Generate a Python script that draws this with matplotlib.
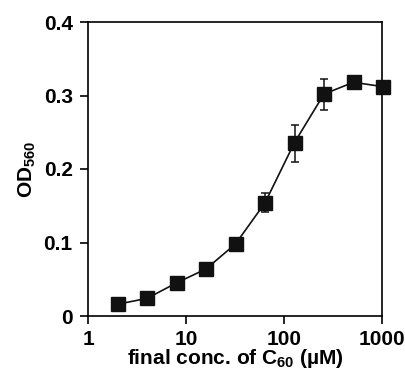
import numpy as np
import matplotlib
matplotlib.use("Agg")
from matplotlib import pyplot as plt

plt.rcParams['font.family'] = 'Liberation Sans'
plt.rcParams['font.weight'] = 'bold'
plt.rcParams['mathtext.fontset'] = 'custom'
plt.rcParams['mathtext.rm'] = 'Liberation Sans:bold'

conc = [2, 4, 8, 16, 32, 64, 128, 256, 512, 1024]
od = [0.016, 0.024, 0.045, 0.064, 0.098, 0.154, 0.236, 0.302, 0.318, 0.312]
err_lo = [0.002, 0.002, 0.002, 0.002, 0.002, 0.012, 0.026, 0.022, 0.003, 0.003]
err_hi = [0.002, 0.002, 0.002, 0.002, 0.002, 0.014, 0.024, 0.020, 0.003, 0.003]

fig = plt.figure(figsize=(4.06, 3.73), dpi=100)
ax = fig.add_axes([88 / 406, 1 - 316 / 373, 294 / 406, 294 / 373])

ax.errorbar(conc, od, yerr=[err_lo, err_hi], fmt='none', ecolor='#111111',
            elinewidth=1.1, capsize=3, capthick=1.1)
ax.plot(conc, od, color='#111111', lw=1.2, marker='s', ms=10,
        mfc='#111111', mec='#111111', zorder=3, clip_on=False)

ax.set_xscale('log')
ax.set_xlim(1, 1000)
ax.set_ylim(0, 0.4)
ax.set_xticks([1, 10, 100, 1000])
ax.set_xticklabels(['1', '10', '100', '1000'])
ax.xaxis.set_minor_locator(matplotlib.ticker.NullLocator())
ax.set_yticks([0, 0.1, 0.2, 0.3, 0.4])
ax.set_yticklabels(['0', '0.1', '0.2', '0.3', '0.4'])
ax.tick_params(direction='out', length=6, width=1.2, labelsize=15)
ax.tick_params(axis='x', pad=4)
ax.tick_params(axis='y', pad=5)
for s in ax.spines.values():
    s.set_linewidth(1.2)

ax.set_xlabel(r'final conc. of C$\mathregular{_{60}}$ (µM)', fontsize=15,
              fontweight='bold', labelpad=-1)
ax.set_ylabel(r'OD$\mathregular{_{560}}$', fontsize=15, fontweight='bold',
              labelpad=4)

fig.savefig('out.png', dpi=100)
